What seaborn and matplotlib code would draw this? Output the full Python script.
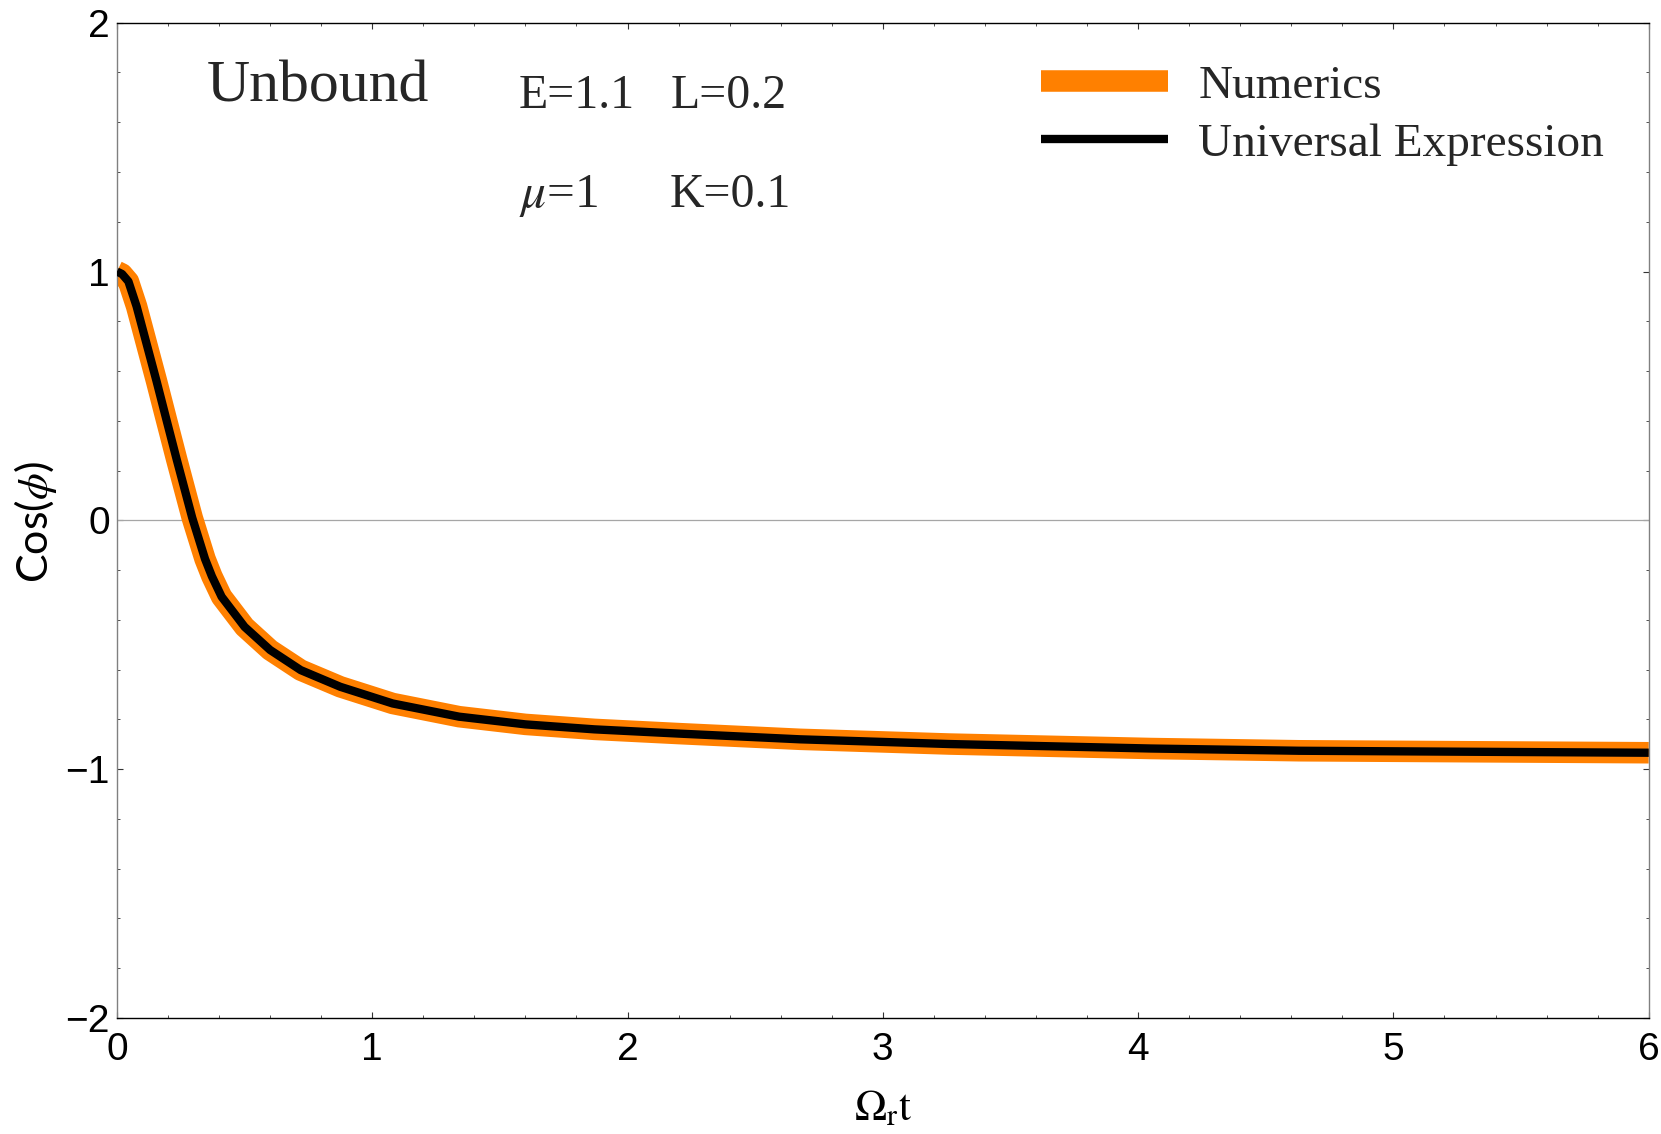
import matplotlib
matplotlib.use("Agg")
import matplotlib.pyplot as plt
from matplotlib.ticker import MultipleLocator
import seaborn as sns

# values
omega_t = [0.0, 0.02, 0.045, 0.077, 0.116, 0.155, 0.195, 0.234, 0.295, 0.345,
           0.372, 0.41, 0.50, 0.60, 0.72, 0.875, 1.08, 1.34, 1.60, 1.87,
           2.20, 2.675, 3.26, 4.05, 4.63, 5.3, 6.0]
numerics_cos = [1.0, 0.99, 0.96, 0.86, 0.71, 0.56, 0.40, 0.245, 0.01, -0.155,
                -0.225, -0.307, -0.428, -0.521, -0.602, -0.669, -0.736, -0.789, -0.82, -0.84,
                -0.857, -0.88, -0.899, -0.917, -0.926, -0.93, -0.934]
universal_cos = [1.0, 0.99, 0.96, 0.86, 0.71, 0.56, 0.40, 0.245, 0.01, -0.155,
                 -0.225, -0.307, -0.428, -0.521, -0.602, -0.669, -0.736, -0.789, -0.82, -0.84,
                 -0.857, -0.88, -0.899, -0.917, -0.926, -0.93, -0.934]
x_ticks = [0, 1, 2, 3, 4, 5, 6]
y_ticks = [-2, -1, 0, 1, 2]

sns.set_theme(style="white")
plt.rcParams["font.family"] = ["Liberation Sans", "DejaVu Sans"]
plt.rcParams["mathtext.fontset"] = "stix"

fig = plt.figure(figsize=(16.61, 11.34), dpi=100)
ax = fig.add_axes([0.0704, 0.1023, 0.9222, 0.8777])

# thin zero line (Mathematica style axis)
ax.axhline(0, color="#a6a6a6", lw=0.9, zorder=1)

sns.lineplot(x=omega_t, y=numerics_cos, color="#ff8000", lw=15.5,
             label="Numerics", ax=ax, solid_capstyle="butt",
             solid_joinstyle="round", zorder=2)
sns.lineplot(x=omega_t, y=universal_cos, color="black", lw=6,
             label="Universal Expression", ax=ax, solid_capstyle="butt",
             solid_joinstyle="round", zorder=3)

ax.set_xlim(0, 6)
ax.set_ylim(-2, 2)
ax.set_xticks(x_ticks)
ax.set_yticks(y_ticks)
ax.xaxis.set_minor_locator(MultipleLocator(0.2))
ax.yaxis.set_minor_locator(MultipleLocator(0.2))

ax.tick_params(which="both", direction="in", top=True, right=True,
               bottom=True, left=True, color="#333333", labelcolor="black")
ax.tick_params(which="major", length=4, width=0.8, labelsize=28)
ax.tick_params(which="minor", length=2.2, width=0.6)
ax.tick_params(axis="x", pad=10)
ax.tick_params(axis="y", pad=5)

for side in ["left", "right"]:
    ax.spines[side].set_color("#808080")
    ax.spines[side].set_linewidth(1.0)
for side in ["top", "bottom"]:
    ax.spines[side].set_color("black")
    ax.spines[side].set_linewidth(1.0)

ax.set_xlabel(r"$\Omega_\mathrm{r}\mathrm{t}$", fontsize=31, color="black")
ax.xaxis.set_label_coords(0.5, -0.072)
ax.set_ylabel(r"Cos($\phi$)", fontsize=31, family=["Lato", "DejaVu Sans"], color="black")
ax.yaxis.set_label_coords(-0.038, 0.498)

# annotations
ax.text(0.353, 1.682, "Unbound", fontsize=43, family="Liberation Serif", va="baseline")
ax.text(1.575, 1.657, "E=1.1", fontsize=34.5, family="Liberation Serif", va="baseline")
ax.text(2.17, 1.657, "L=0.2", fontsize=34.5, family="Liberation Serif", va="baseline")
ax.text(1.575, 1.259, r"$\mu$=1", fontsize=35.5, family="Liberation Serif", va="baseline")
ax.text(2.165, 1.259, "K=0.1", fontsize=34.5, family="Liberation Serif", va="baseline")

ax.legend(loc="upper left", bbox_to_anchor=(0.6033, 0.958), frameon=False,
          handlelength=2.69, handletextpad=0.64, labelspacing=0.32,
          borderpad=0, borderaxespad=0,
          prop={"family": "Liberation Serif", "size": 34})

fig.savefig("out.png", dpi=100)
